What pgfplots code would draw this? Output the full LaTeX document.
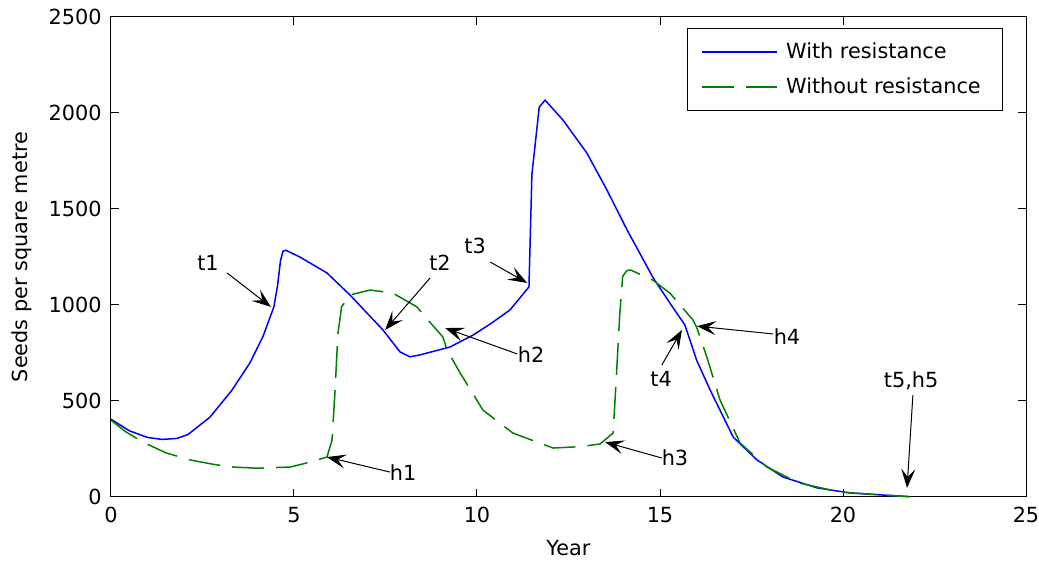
\documentclass[border=0pt]{standalone}
\usepackage{pgfplots}
\pgfplotsset{compat=1.18}
\usepackage{fontspec}
\setmainfont{DejaVu Sans}
\usetikzlibrary{arrows.meta}
\definecolor{mblue}{rgb}{0,0,1}
\definecolor{mgreen}{rgb}{0,0.5,0}
\begin{document}
\fontsize{10.4}{12.5}\selectfont
\begin{tikzpicture}[
  ann/.style={draw=black, line width=0.5pt, -{Stealth[length=9.5pt,width=7pt,inset=4pt]}},
  lab/.style={font=\fontsize{10.4}{12}\selectfont, inner sep=0pt}]
\begin{axis}[
  scale only axis,
  width=457.5pt, height=240pt,
  xmin=0, xmax=25, ymin=0, ymax=2500,
  xtick={0,5,...,25}, ytick={0,500,...,2500},
  tick align=inside,
  major tick length=4pt,
  axis line style={line width=0.5pt},
  tick style={line width=0.5pt, black},
  /pgf/number format/assume math mode=true,
  scaled y ticks=false,
  yticklabel style={/pgf/number format/1000 sep={}, xshift=-1pt},
  xticklabel style={yshift=-1.5pt},
  xlabel={Year}, ylabel={Seeds per square metre},
  xlabel style={at={(axis description cs:0.5,-0.106)}, anchor=center},
  ylabel style={at={(axis description cs:-0.0973,0.5)}, anchor=center},
  legend style={at={(rel axis cs:0.975,0.977)}, anchor=north east,
    inner xsep=7pt, inner ysep=5pt, row sep=4pt, cells={anchor=west},
    nodes={inner xsep=4pt}},
  legend image code/.code={\draw[#1] (0pt,0pt) -- (37.5pt,0pt);},
  clip=false,
]
\addplot[mblue, line width=0.75pt] coordinates {
(0,405) (0.5,345) (1.0,310) (1.4,300) (1.8,305) (2.1,325) (2.7,415) (3.3,555) (3.8,700) (4.15,835) (4.45,990)
(4.55,1100) (4.63,1230) (4.7,1280) (4.78,1285) (5.16,1250) (5.9,1167) (6.53,1052) (7.43,870) (7.9,755) (8.17,730)
(8.44,740) (9.26,781) (9.9,844) (10.4,906) (10.9,974) (11.42,1094) (11.5,1680) (11.7,2030) (11.86,2067)
(12.35,1963) (13.0,1792) (13.55,1599) (14.1,1391) (14.8,1146) (15.27,1010) (15.68,896) (16.0,713) (16.37,557)
(17.0,312) (17.65,193) (18.36,104) (19.3,47) (20.2,21) (21.1,10) (21.8,2)
};
\addlegendentry{With resistance}
\addplot[mgreen, line width=0.75pt, dash pattern=on 16pt off 6pt] coordinates {
(0,400) (0.4,340) (0.87,286) (1.5,230) (2.16,193) (2.8,170) (3.33,156) (4.0,150) (4.9,156) (5.4,180) (5.9,208)
(6.04,297) (6.12,550) (6.2,850) (6.3,990) (6.53,1052) (7.08,1078) (7.7,1062) (8.36,990) (8.66,922) (9.07,833)
(9.18,766) (9.54,646) (10.16,453) (10.98,333) (12.08,255) (12.8,262) (13.36,276) (13.72,333) (13.8,600)
(13.9,950) (13.98,1150) (14.1,1180) (14.2,1182) (14.8,1130) (15.27,1062) (15.9,922) (16.0,885) (16.28,729)
(16.64,505) (17.19,281) (17.92,156) (18.8,73) (19.9,26) (21.1,10) (21.8,2)
};
\addlegendentry{Without resistance}
% annotations
\node[lab] at (axis cs:2.65,1219) {t1};
\draw[ann] (axis cs:3.17,1167) -- (axis cs:4.37,990);
\node[lab] at (axis cs:8.99,1219) {t2};
\draw[ann] (axis cs:8.72,1141) -- (axis cs:7.49,870);
\node[lab] at (axis cs:9.95,1307) {t3};
\draw[ann] (axis cs:10.36,1224) -- (axis cs:11.37,1115);
\node[lab] at (axis cs:15.03,615) {t4};
\draw[ann] (axis cs:15.05,687) -- (axis cs:15.6,870);
\node[lab] at (axis cs:21.86,604) {t5,h5};
\draw[ann] (axis cs:21.91,531) -- (axis cs:21.75,47);
\node[lab] at (axis cs:7.98,125) {h1};
\draw[ann] (axis cs:7.62,130) -- (axis cs:5.9,208);
\node[lab] at (axis cs:11.48,740) {h2};
\draw[ann] (axis cs:11.1,745) -- (axis cs:9.13,880);
\node[lab] at (axis cs:15.41,203) {h3};
\draw[ann] (axis cs:15.05,203) -- (axis cs:13.5,286);
\node[lab] at (axis cs:18.47,838) {h4};
\draw[ann] (axis cs:18.09,849) -- (axis cs:16.01,890);
\end{axis}
\pgfresetboundingbox
\path[use as bounding box] (-55.5pt,-32pt) rectangle (464pt,248.5pt);
\end{tikzpicture}
\end{document}
